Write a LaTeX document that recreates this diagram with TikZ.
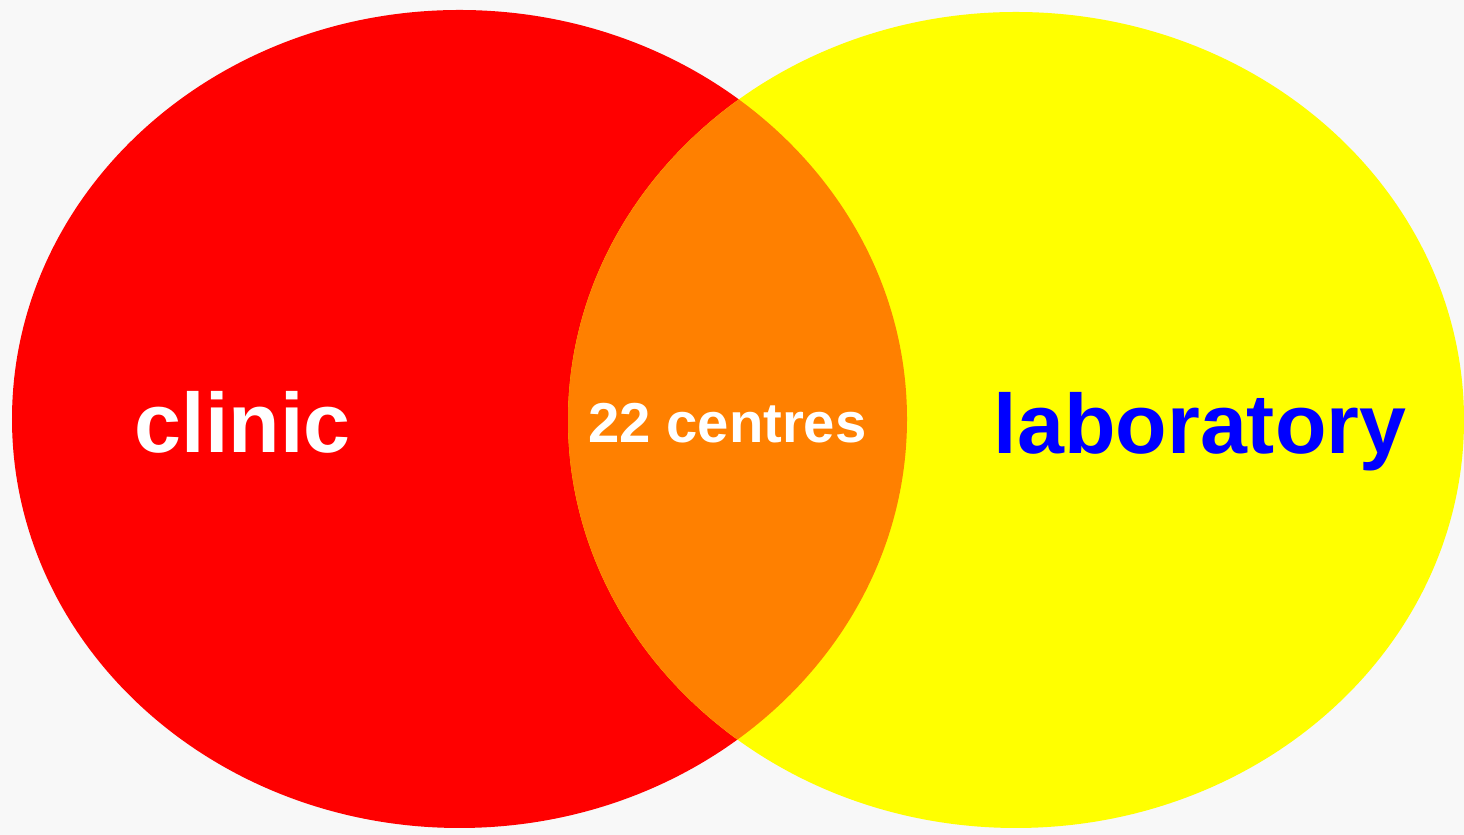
\documentclass[tikz,border=0pt]{standalone}
\usepackage{fontspec}
\setmainfont{Liberation Sans}
\usepackage{tikz}
\usetikzlibrary{positioning}
\usepackage{xcolor}
\definecolor{bggray}{RGB}{248,248,248}
\definecolor{clinicred}{RGB}{255,0,0}
\definecolor{labyellow}{RGB}{255,255,0}
\definecolor{lensorange}{RGB}{255,128,0}
\definecolor{labblue}{RGB}{0,0,255}

\begin{document}
\begin{tikzpicture}
                % Background
                \fill[bggray] (0,0) rectangle (14.64,8.35);
                \useasboundingbox (0,0) rectangle (14.64,8.35);

                % Centres of the two sets
                \coordinate (clinicC) at (4.595,4.16);
                \coordinate (labC) at (10.16,4.15);

                % Clinic and laboratory sets
                \fill[clinicred] (clinicC) ellipse [x radius=4.475, y radius=4.09];
                \fill[labyellow] (labC) ellipse [x radius=4.48, y radius=4.08];

                % Overlap
                \begin{scope}
                    \clip (clinicC) ellipse [x radius=4.475, y radius=4.09];
                    \fill[lensorange] (labC) ellipse [x radius=4.48, y radius=4.08];
                \end{scope}

                % Labels
                \node[anchor=base, white, font=\bfseries\fontsize{24}{28}\selectfont] (clinic) at (2.425,3.82) {clinic};
                \node[anchor=base, white, font=\bfseries\fontsize{16}{19}\selectfont] (centres) at (7.275,3.92) {22 centres};
                \node[anchor=base, labblue, font=\bfseries\fontsize{24}{28}\selectfont] (lab) at (12.0,3.81) {laboratory};
\end{tikzpicture}
\end{document}
